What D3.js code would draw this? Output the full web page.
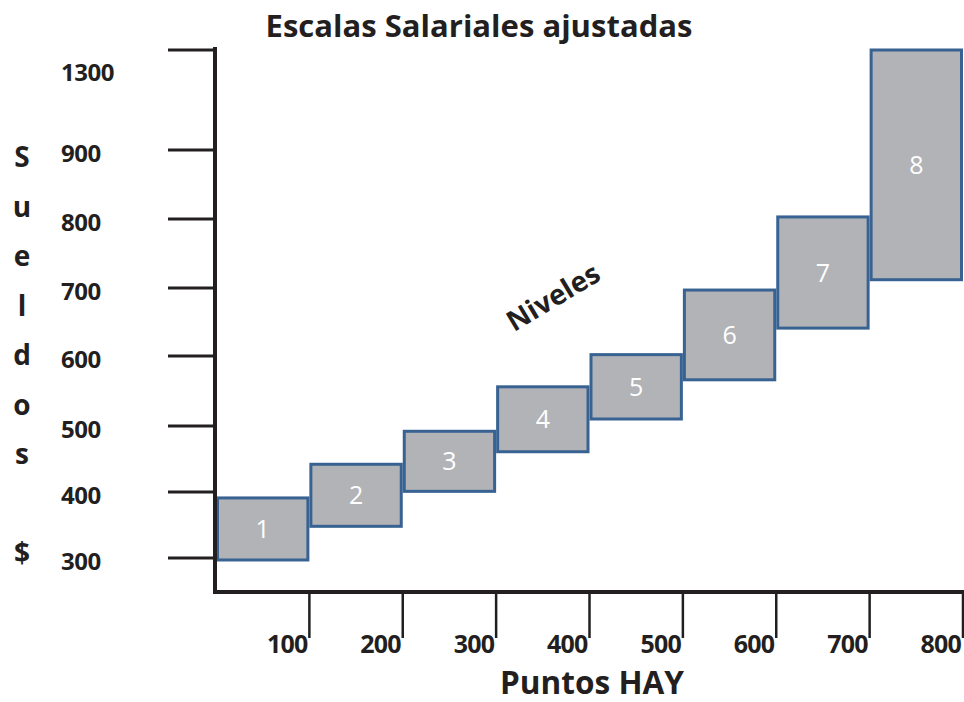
<!DOCTYPE html>
<html>
<head>
<meta charset="utf-8">
<script src="https://cdn.jsdelivr.net/npm/d3@7"></script>
<style>
  html, body { margin: 0; padding: 0; background: #fff; }
  svg { display: block; }
  text { font-family: "Open Sans", Lato, sans-serif; }
</style>
</head>
<body>
<svg id="chart" width="964" height="702"></svg>
<script>
// Salary bands per HAY level
const levels = [1, 2, 3, 4, 5, 6, 7, 8];
const pointsFrom = [0, 100, 200, 300, 400, 500, 600, 700];
const pointsTo = [100, 200, 300, 400, 500, 600, 700, 800];
const salaryMin = [297, 348, 401, 461, 510, 566, 641, 712];
const salaryMax = [391, 442, 492, 556, 602, 697, 803, 1300];

// Axis ticks
const xTicks = [100, 200, 300, 400, 500, 600, 700, 800];
const yTicks = [300, 400, 500, 600, 700, 800, 900, 1300];
const yTitleChars = ["S", "u", "e", "l", "d", "o", "s", "", "$"];

const svg = d3.select("#chart");

const x = d3.scaleLinear().domain([0, 800]).range([216, 963]);
// The salary axis is broken above 900: piecewise linear between tick values
const y = d3.scaleLinear()
  .domain([300, 400, 500, 600, 700, 800, 900, 1300])
  .range([558, 492, 426, 356, 288, 219, 150, 50]);

const ink = "#231f20";

// Shrink or grow a text so its run spans the given width
function fitWidth(sel, width) {
  sel.each(function () {
    const fs = parseFloat(this.getAttribute("font-size"));
    const w = this.getComputedTextLength();
    if (w > 0) this.setAttribute("font-size", (fs * width / w).toFixed(2));
  });
}

// Title
svg.append("text")
  .attr("x", 479).attr("y", 37)
  .attr("text-anchor", "middle")
  .attr("font-size", 28).attr("font-weight", 700)
  .attr("fill", ink)
  .text("Escalas Salariales ajustadas")
  .call(fitWidth, 427);

// Level boxes
const data = levels.map((l, i) => ({
  level: l, x0: pointsFrom[i], x1: pointsTo[i], lo: salaryMin[i], hi: salaryMax[i]
}));

const g = svg.append("g");
g.selectAll("rect.band").data(data).join("rect")
  .attr("class", "band")
  .attr("x", d => x(d.x0) + 1.5)
  .attr("y", d => y(d.hi))
  .attr("width", d => x(d.x1) - x(d.x0) - 3)
  .attr("height", d => y(d.lo) - y(d.hi))
  .attr("fill", "#b2b3b7")
  .attr("stroke", "#386292")
  .attr("stroke-width", 3);

g.selectAll("text.lvl").data(data).join("text")
  .attr("class", "lvl")
  .attr("x", d => (x(d.x0) + x(d.x1)) / 2)
  .attr("y", d => (y(d.lo) + y(d.hi)) / 2)
  .attr("dy", "0.36em")
  .attr("text-anchor", "middle")
  .attr("font-size", 25)
  .attr("fill", "#ffffff")
  .text(d => d.level);

// Y axis
const yAxis = svg.append("g");
yAxis.append("line")
  .attr("x1", 215).attr("x2", 215)
  .attr("y1", 47).attr("y2", 594)
  .attr("stroke", ink).attr("stroke-width", 4);
yAxis.selectAll("line.tick").data(yTicks).join("line")
  .attr("class", "tick")
  .attr("x1", 168).attr("x2", 215)
  .attr("y1", d => y(d)).attr("y2", d => y(d))
  .attr("stroke", ink).attr("stroke-width", 3);
yAxis.selectAll("text.tick").data(yTicks).join("text")
  .attr("class", "tick")
  .attr("x", 61)
  .attr("y", d => y(d) + (d === 1300 ? 22 : 3))
  .attr("dy", "0.36em")
  .attr("font-size", 24).attr("font-weight", 700)
  .attr("letter-spacing", -0.5)
  .attr("fill", ink)
  .text(d => d);

// Vertical y title, one character per line
svg.append("g").selectAll("text").data(yTitleChars).join("text")
  .attr("x", 22)
  .attr("y", (d, i) => 157 + i * 49.5)
  .attr("dy", "0.36em")
  .attr("text-anchor", "middle")
  .attr("font-size", 28).attr("font-weight", 700)
  .attr("fill", ink)
  .text(d => d);

// X axis
const xAxis = svg.append("g");
xAxis.append("line")
  .attr("x1", 213).attr("x2", 964)
  .attr("y1", 592).attr("y2", 592)
  .attr("stroke", ink).attr("stroke-width", 4);
xAxis.selectAll("line.tick").data(xTicks).join("line")
  .attr("class", "tick")
  .attr("x1", d => x(d)).attr("x2", d => x(d))
  .attr("y1", 592).attr("y2", 638)
  .attr("stroke", ink).attr("stroke-width", 2.5);
xAxis.selectAll("text.tick").data(xTicks).join("text")
  .attr("class", "tick")
  .attr("x", d => x(d) - 2)
  .attr("y", 653)
  .attr("text-anchor", "end")
  .attr("font-size", 25).attr("font-weight", 700)
  .attr("letter-spacing", -0.8)
  .attr("fill", ink)
  .text(d => d);

svg.append("text")
  .attr("x", 592).attr("y", 694)
  .attr("text-anchor", "middle")
  .attr("font-size", 28).attr("font-weight", 700)
  .attr("fill", ink)
  .text("Puntos HAY")
  .call(fitWidth, 184);

// Diagonal annotation
svg.append("text")
  .attr("transform", "translate(553,297) rotate(-31)")
  .attr("text-anchor", "middle")
  .attr("dy", "0.36em")
  .attr("font-size", 22).attr("font-weight", 700)
  .attr("fill", ink)
  .text("Niveles")
  .call(fitWidth, 103);
</script>
</body>
</html>
